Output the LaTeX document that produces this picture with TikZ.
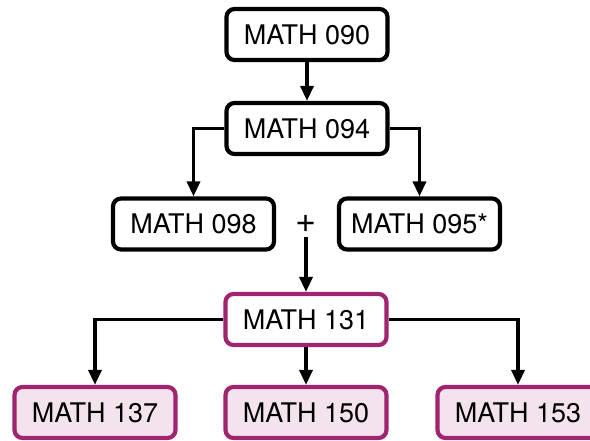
\documentclass[tikz,border=0pt]{standalone}
\usepackage{fontspec}
\setmainfont{TeX Gyre Heros}
\usetikzlibrary{arrows.meta}
\definecolor{plum}{RGB}{160,36,112}
\definecolor{plumfill}{RGB}{243,227,236}
\begin{document}
\begin{tikzpicture}[x=1pt, y=-1pt,
    course/.style={draw=black, line width=4.2pt, rounded corners=8pt,
      minimum width=161pt, minimum height=51pt, inner sep=0pt,
      font=\fontsize{27}{32}\selectfont},
    core/.style={course, draw=plum},
    upper/.style={core, fill=plumfill},
    link/.style={line width=3.4pt, -{Triangle[length=15pt,width=13pt]}}]
    % page size = reference picture
    \useasboundingbox (0,0) rectangle (590,441);
    \node[course] (m090) at (307,34.5) {MATH 090};
    \node[course] (m094) at (307,128.5) {MATH 094};
    \node[course] (m098) at (193.5,224) {MATH 098};
    \node[inner sep=0pt, minimum height=26pt, font=\fontsize{36}{38}\selectfont] (plus) at (306,224) {+};
    \node[course] (m095) at (419.5,224) {MATH 095*};
    \node[core] (m131) at (306,319.5) {MATH 131};
    \node[upper] (m137) at (95,412.5) {MATH 137};
    \node[upper] (m150) at (306,412.5) {MATH 150};
    \node[upper] (m153) at (518,412.5) {MATH 153};
    \draw[link] (m090) -- (m094);
    \draw[link] (m094.west) -| (m098.north);
    \draw[link] (m094.east) -| (m095.north);
    \draw[link] (plus.south) -- (m131.north);
    \draw[link] (m131.west) -| (m137.north);
    \draw[link] (m131) -- (m150);
    \draw[link] (m131.east) -| (m153.north);
\end{tikzpicture}
\end{document}
